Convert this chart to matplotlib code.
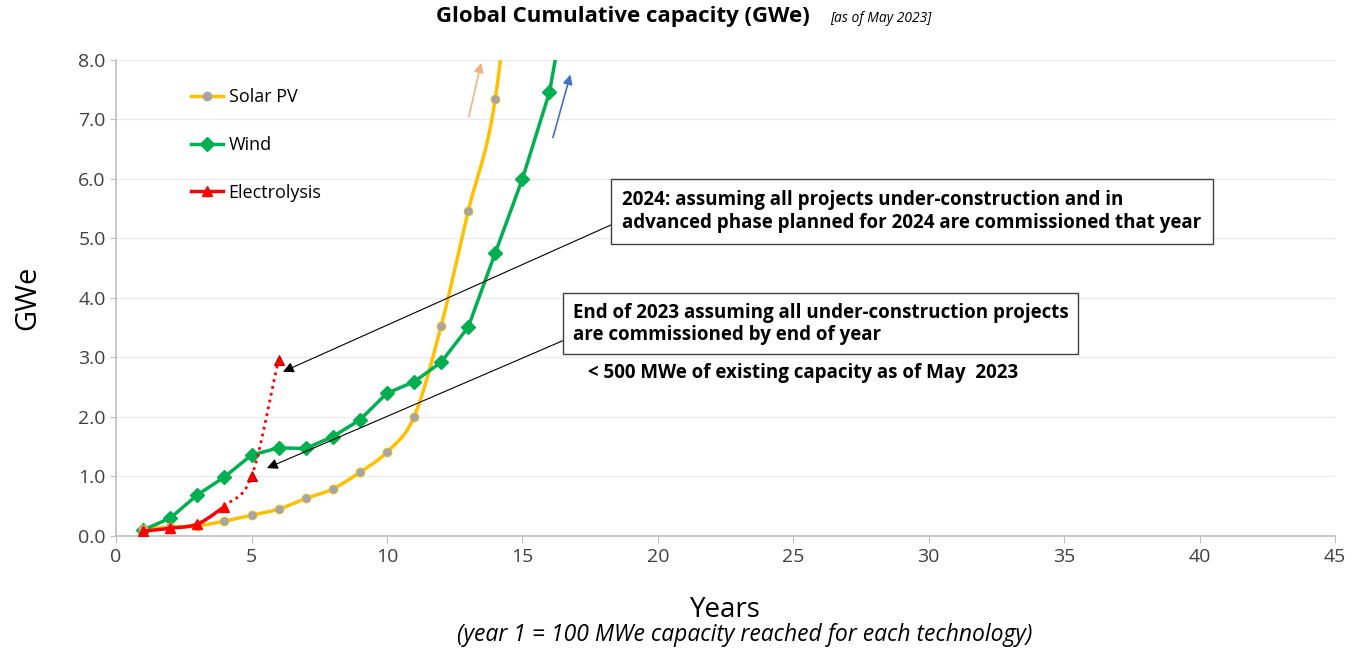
import numpy as np
import matplotlib.pyplot as plt

# data (year index -> GWe)
years_solar = [1, 2, 3, 4, 5, 6, 7, 8, 9, 10, 11, 12, 13, 14, 15]
solar = [0.12, 0.15, 0.17, 0.25, 0.35, 0.45, 0.63, 0.79, 1.07, 1.41, 2.0, 3.53, 5.46, 7.35, 11.5]

years_wind = [1, 2, 3, 4, 5, 6, 7, 8, 9, 10, 11, 12, 13, 14, 15, 16, 17]
wind = [0.1, 0.3, 0.69, 0.99, 1.36, 1.48, 1.47, 1.67, 1.95, 2.4, 2.59, 2.92, 3.51, 4.76, 6.0, 7.46, 10.0]

years_elec = [1, 2, 3, 4]
elec = [0.08, 0.13, 0.2, 0.49]
years_elec_proj = [4, 5, 6]
elec_proj = [0.49, 1.0, 2.96]

x_ticks = [0, 5, 10, 15, 20, 25, 30, 35, 40, 45]
y_ticks = [0, 1, 2, 3, 4, 5, 6, 7, 8]


def smooth(x, y, n=20):
    # catmull-rom, roughly like excel's "smoothed line"
    x = np.asarray(x, float); y = np.asarray(y, float)
    px = np.concatenate([[2*x[0]-x[1]], x, [2*x[-1]-x[-2]]])
    py = np.concatenate([[2*y[0]-y[1]], y, [2*y[-1]-y[-2]]])
    xs, ys = [], []
    for i in range(1, len(px)-2):
        t = np.linspace(0, 1, n)
        for arr, out in ((px, xs), (py, ys)):
            p0, p1, p2, p3 = arr[i-1], arr[i], arr[i+1], arr[i+2]
            out.extend(0.5*((2*p1) + (-p0+p2)*t + (2*p0-5*p1+4*p2-p3)*t**2 + (-p0+3*p1-3*p2+p3)*t**3))
    return np.array(xs), np.array(ys)


plt.rcParams['font.family'] = ['Open Sans', 'DejaVu Sans']

fig = plt.figure(figsize=(13.59, 6.52), dpi=100)
ax = fig.add_axes([0.0854, 0.178, 0.897, 0.730])

sx, sy = smooth(years_solar, solar)
ax.plot(sx, sy, color='#FFC000', lw=2.5, zorder=3)
ax.plot(years_solar, solar, ls='none', marker='o', ms=6.5, color='#A5A5A5',
        mec='#FFC000', mew=0.5, zorder=4)
ax.plot([], [], color='#FFC000', lw=2.5, marker='o', ms=6, mfc='#A5A5A5', mec='#A5A5A5', label='Solar PV')

ax.plot(years_wind, wind, color='#00B050', lw=2.5, marker='D', ms=7, zorder=3, label='Wind')

ex, ey = smooth(years_elec, elec)
ax.plot(ex, ey, color='#FF0000', lw=2.5, zorder=5)
ax.plot(years_elec, elec, ls='none', marker='^', ms=7, color='#FF0000', zorder=6)
px_, py_ = smooth(years_elec_proj, elec_proj)
ax.plot(px_, py_, color='#FF0000', lw=2, ls=(0, (1, 1.5)), zorder=5)
ax.plot(years_elec_proj[1:], elec_proj[1:], ls='none', marker='^', ms=7, color='#FF0000',
        mec='#C00000', mew=0.8, zorder=6)
ax.plot([], [], color='#FF0000', lw=2.5, marker='^', ms=7, label='Electrolysis')

ax.set_xlim(0, 45)
ax.set_ylim(0, 8)
ax.set_xticks(x_ticks)
ax.set_yticks(y_ticks)
ax.set_yticklabels([f'{v:.1f}' for v in y_ticks])
ax.tick_params(labelsize=14, length=5, color='#BFBFBF', colors='#404040')
ax.tick_params(axis='y', length=4)
ax.grid(axis='y', color='#EBEBEB', lw=1)
ax.set_axisbelow(True)
for s in ['top', 'right']:
    ax.spines[s].set_visible(False)
for s in ['left', 'bottom']:
    ax.spines[s].set_color('#BFBFBF')
    ax.spines[s].set_linewidth(1.2)

ax.set_ylabel('GWe', fontsize=21, labelpad=26)
ax.set_xlabel('Years', fontsize=20, labelpad=22)
fig.text(0.548, 0.026, '(year 1 = 100 MWe capacity reached for each technology)',
         ha='center', va='center', fontsize=16.5, style='italic')

fig.text(0.458, 0.974, 'Global Cumulative capacity (GWe)', ha='center', va='center',
         fontsize=16, fontweight='bold')
fig.text(0.611, 0.972, '[as of May 2023]', ha='left', va='center', fontsize=10,
         style='italic')

leg = ax.legend(loc='upper left', bbox_to_anchor=(0.048, 0.975), frameon=False, fontsize=13,
                labelspacing=1.65, handlelength=1.8, handletextpad=0.3)

# growth arrows
ax.annotate('', xy=(13.5, 8.0), xytext=(13.0, 7.0),
            arrowprops=dict(arrowstyle='-|>', color='#F4B183', lw=1.2, mutation_scale=14))
ax.annotate('', xy=(16.8, 7.8), xytext=(16.1, 6.65),
            arrowprops=dict(arrowstyle='-|>', color='#4472C4', lw=1.2, mutation_scale=14))

ax.annotate('2024: assuming all projects under-construction and in\n'
            'advanced phase planned for 2024 are commissioned that year',
            xy=(6.16, 2.76), xytext=(18.69, 5.81), ha='left', va='top',
            fontsize=13.5, fontweight='bold', linespacing=1.15,
            bbox=dict(boxstyle='square,pad=0.6', fc='white', ec='#404040', lw=1),
            arrowprops=dict(arrowstyle='-|>', color='black', lw=0.8, mutation_scale=16,
                            shrinkA=0, shrinkB=0, relpos=(0, 0.3)))
ax.annotate('End of 2023 assuming all under-construction projects\n'
            'are commissioned by end of year',
            xy=(5.57, 1.14), xytext=(16.85, 3.92), ha='left', va='top',
            fontsize=13.5, fontweight='bold', linespacing=1.15,
            bbox=dict(boxstyle='square,pad=0.5', fc='white', ec='#404040', lw=1),
            arrowprops=dict(arrowstyle='-|>', color='black', lw=0.8, mutation_scale=16,
                            shrinkA=0, shrinkB=0, relpos=(0, 0.2)))
ax.text(17.42, 2.74, '< 500 MWe of existing capacity as of May  2023', ha='left', va='center',
        fontsize=13.5, fontweight='bold')

fig.savefig('out.png', dpi=100)
